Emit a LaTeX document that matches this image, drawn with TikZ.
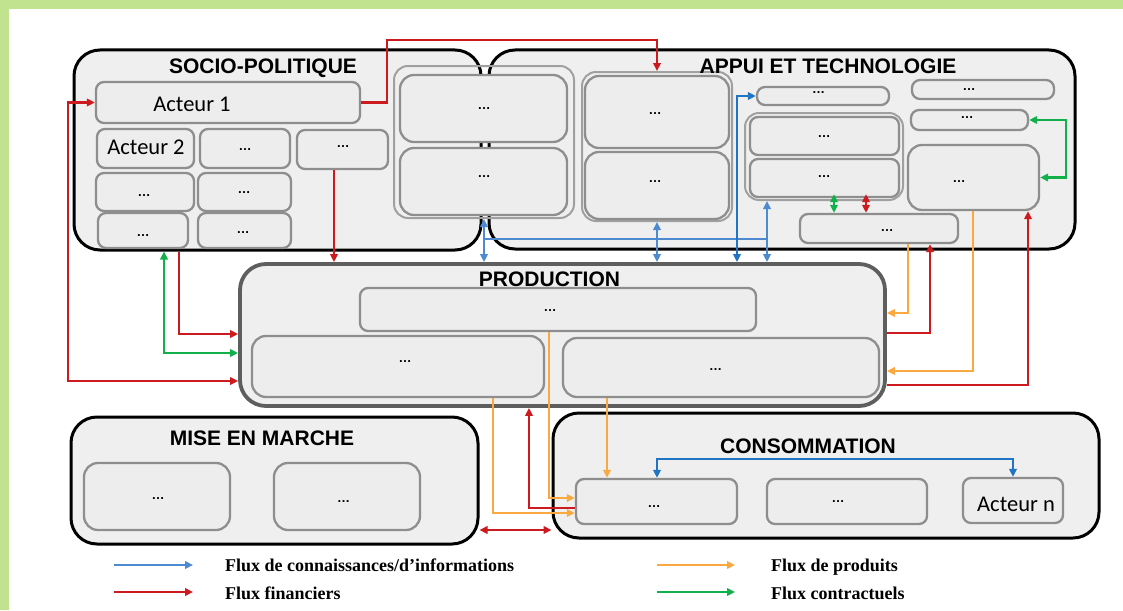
\documentclass[tikz,border=0pt]{standalone}
\usepackage{fontspec}
\setmainfont{Liberation Sans}
\newfontfamily\titlefont{Liberation Sans}
\newfontfamily\calfont{Carlito}
\newfontfamily\legfont{Liberation Serif}
\usetikzlibrary{arrows.meta}
\definecolor{cRed}{HTML}{CC1A1F}
\definecolor{cBlue}{HTML}{4E8AD0}
\definecolor{cDBlue}{HTML}{1F74C4}
\definecolor{cOrange}{HTML}{F9A940}
\definecolor{cGreen}{HTML}{12B04A}
\definecolor{frameGreen}{HTML}{C1E28E}
\definecolor{boxfill}{HTML}{EFEFEF}
\definecolor{ibfill}{HTML}{EDEDED}
\definecolor{ibord}{HTML}{8E8E8E}
\definecolor{gbord}{HTML}{A0A0A0}
\definecolor{pbord}{HTML}{5E5E5E}
\newcommand{\mkbox}[5]{\node[#1,minimum width=#4pt,minimum height=#5pt] (#2) at (#3) {};}
\begin{document}
\begin{tikzpicture}[x=1pt,y=-1pt,
  >={Triangle[length=8pt,width=7.5pt]},
  outer/.style={draw=black, line width=3pt, fill=boxfill, rounded corners=26pt, inner sep=0pt},
  prodbox/.style={draw=pbord, line width=3.8pt, fill=boxfill, rounded corners=26pt, inner sep=0pt},
  ibox/.style={draw=ibord, line width=2.3pt, fill=ibfill, rounded corners=8pt, inner sep=0pt},
  bigbox/.style={ibox, rounded corners=14pt},
  grp/.style={draw=gbord, line width=2pt, rounded corners=14pt, inner sep=0pt},
  ttl/.style={font=\titlefont\fontsize{21pt}{21pt}\selectfont\bfseries, inner sep=0pt, anchor=base},
  act/.style={font=\calfont\fontsize{22.5pt}{22.5pt}\selectfont, inner sep=0pt, anchor=base},
  dt/.style={font=\fontsize{13pt}{13pt}\selectfont\bfseries, inner sep=0pt},
  leg/.style={font=\legfont\fontsize{18pt}{18pt}\selectfont\bfseries, inner sep=0pt, anchor=base west},
  rf/.style={draw=cRed, line width=2.8pt},
  bf/.style={draw=cBlue, line width=2.6pt},
  dbf/.style={draw=cDBlue, line width=2.6pt},
  of/.style={draw=cOrange, line width=2.3pt},
  gf/.style={draw=cGreen, line width=2.6pt},
  lgf/.style={line width=2.6pt, ->, >={Triangle[length=8pt,width=7.5pt]}}
]
\useasboundingbox (0,0) rectangle (1123,610);
\fill[white] (0,0) rectangle (1123,610);
\fill[frameGreen] (0,0) rectangle (1123,9);
\fill[frameGreen] (0,0) rectangle (8.5,610);

% outer groups
\mkbox{outer}{socio}{277.5,150}{407}{200}
\mkbox{outer}{appui}{782,149.5}{586}{199}

% socio inner
\mkbox{ibox}{a1}{228,102.5}{264}{41}
\mkbox{ibox}{a2}{145.5,148.5}{97}{39}
\mkbox{ibox}{s22}{245,148.5}{90}{39}
\mkbox{ibox}{s23}{342.5,149.5}{91}{39}
\mkbox{ibox}{s31}{145,192}{98}{38}
\mkbox{ibox}{s32}{244.5,192}{93}{38}
\mkbox{ibox}{s41}{143,230.5}{90}{35}
\mkbox{ibox}{s42}{244.5,230.5}{93}{35}

% shared middle groups
\mkbox{grp}{gL}{484,142}{180}{152}
\mkbox{bigbox}{mL1}{483.5,108.5}{167}{67}
\mkbox{bigbox}{mL2}{483.5,181.5}{167}{67}
\mkbox{grp}{gR}{657,146.5}{150}{149}
\mkbox{bigbox}{mR1}{657,112}{144}{72}
\mkbox{bigbox}{mR2}{657,185.5}{144}{67}

% appui inner
\mkbox{ibox}{p1}{823,96}{132}{18}
\mkbox{grp}{gA}{824,156.5}{158}{87}
\mkbox{ibox}{p2}{824.5,136}{149}{38}
\mkbox{ibox}{p3}{824.5,178}{149}{38}
\mkbox{ibox}{p4}{983,89.5}{142}{19}
\mkbox{ibox}{p5}{969.5,120}{117}{20}
\mkbox{bigbox}{p6}{973.5,177.5}{131}{65}
\mkbox{ibox}{p8}{879,228.5}{158}{29}

% production
\mkbox{prodbox}{prod}{562.5,335}{645}{142}
\mkbox{ibox}{pr1}{558,309.5}{396}{43}
\mkbox{bigbox}{pr2}{398,366.5}{292}{61}
\mkbox{bigbox}{pr3}{721,367.5}{316}{59}

% mise en marche
\mkbox{outer}{mise}{274.5,480.5}{407}{127}
\mkbox{bigbox}{m1}{157,496.5}{146}{67}
\mkbox{bigbox}{m2}{347,496.5}{146}{67}

% consommation
\mkbox{outer}{conso}{826,475.5}{546}{125}
\mkbox{ibox}{c1}{656.5,501.5}{161}{45}
\mkbox{ibox}{c2}{847,501.5}{160}{45}
\mkbox{ibox}{c3}{1013,500.5}{100}{45}

% titles
\node[ttl] (t-socio) at (263,74) {SOCIO-POLITIQUE};
\node[ttl] (t-appui) at (828,74) {APPUI ET TECHNOLOGIE};
\node[ttl] (t-prod) at (549.5,286) {PRODUCTION};
\node[ttl] (t-mise) at (262,445) {MISE EN MARCHE};
\node[ttl] (t-conso) at (808,453) {CONSOMMATION};

% actor labels
\node[act] (t-a1) at (192,111) {Acteur 1};
\node[act] (t-a2) at (146,154) {Acteur 2};
\node[act] (t-an) at (1016,511) {Acteur n};

% dots
\node[dt] (d-s22) at (245,150) {…};
\node[dt] (d-s23) at (343,147) {…};
\node[dt] (d-s31) at (144,196) {…};
\node[dt] (d-s32) at (244,193) {…};
\node[dt] (d-s41) at (143,236) {…};
\node[dt] (d-s42) at (243,233) {…};
\node[dt] (d-mL1) at (484,109) {…};
\node[dt] (d-mL2) at (484,177) {…};
\node[dt] (d-mR1) at (655,114) {…};
\node[dt] (d-mR2) at (655,182) {…};
\node[dt] (d-p1) at (818.5,93) {…};
\node[dt] (d-p2) at (824,137) {…};
\node[dt] (d-p3) at (824,177) {…};
\node[dt] (d-p4) at (969,90) {…};
\node[dt] (d-p5) at (967,118) {…};
\node[dt] (d-p6) at (959,182) {…};
\node[dt] (d-p8) at (887,231) {…};
\node[dt] (d-pr1) at (550,311) {…};
\node[dt] (d-pr2) at (405,362) {…};
\node[dt] (d-pr3) at (715.5,370) {…};
\node[dt] (d-m1) at (158,499) {…};
\node[dt] (d-m2) at (343.5,502) {…};
\node[dt] (d-c1) at (654,507) {…};
\node[dt] (d-c2) at (838,502) {…};

% ---- connectors ----
% left side
\draw[rf,<->] (a1.west) -| (68,381) -- (prod.west |- 0,381);
\draw[gf,<->] (socio.south -| 164,0) |- (prod.west |- 0,353);
\draw[rf,->] (socio.south -| 179,0) |- (prod.west |- 0,334);
\draw[rf,->] (s23.south -| 334,0) -- (prod.north -| 334,0);
\draw[rf,->] (a1.east) -| (387,40) -| (gR.north);
% blue network
\coordinate (bj) at (767,239);
\draw[bf] (gL.south |- bj) -- (bj);
\draw[bf,<->] (gL.south) -- (prod.north -| gL.south);
\draw[bf,<->] (gR.south) -- (prod.north -| gR.south);
\draw[bf,<->] (gA.south -| bj) -- (prod.north -| bj);
\draw[dbf,<->] (prod.north -| 737,0) |- (p1.west);
% appui internal
\draw[gf,<->] ([yshift=4pt]p3.south -| 834,0) -- (p8.north -| 834,0);
\draw[rf,<->] ([yshift=4pt]p3.south -| 866,0) -- (p8.north -| 866,0);
\draw[gf,<->] (p5.east) -| (1066,150) |- (p6.east);
% right side
\draw[of,->] (p8.south -| 908,0) |- (prod.east |- 0,313);
\draw[rf,->] (prod.east |- 0,333) -| (p8.south -| 930,0);
\draw[of,->] (p6.south -| 973,0) |- (prod.east |- 0,371);
\draw[rf,->] (prod.east |- 0,385) -| (p6.south -| 1028,0);
% production -> consommation
\draw[of,->] (pr2.south -| 493,0) |- (c1.west |- 0,513);
\draw[rf,->] (c1.west |- 0,508) -| (prod.south -| 529,0);
\draw[of,->] (pr1.south -| 549,0) |- (c1.west |- 0,498);
\draw[of,->] (pr3.south -| 607,0) -- (c1.north -| 607,0);
\draw[rf,<->] (mise.east |- 0,530) -- (conso.west |- 0,530);
\draw[dbf,<->] (c1.north -| 657,0) |- (c3.north |- 0,459) -- (c3.north);

% legend
\coordinate (l1a) at (114,565); \coordinate (l1b) at (193,565);
\coordinate (l2a) at (114,592); \coordinate (l2b) at (193,592);
\coordinate (l3a) at (657,565); \coordinate (l3b) at (735,565);
\coordinate (l4a) at (657,592); \coordinate (l4b) at (735,592);
\draw[lgf,draw=cBlue] (l1a) -- (l1b);
\draw[lgf,draw=cRed] (l2a) -- (l2b);
\draw[lgf,draw=cOrange] (l3a) -- (l3b);
\draw[lgf,draw=cGreen] (l4a) -- (l4b);
\node[leg] (lt1) at (225,571) {Flux de connaissances/d’informations};
\node[leg] (lt2) at (225,599) {Flux financiers};
\node[leg] (lt3) at (771,571) {Flux de produits};
\node[leg] (lt4) at (771,599) {Flux contractuels};
\end{tikzpicture}
\end{document}
